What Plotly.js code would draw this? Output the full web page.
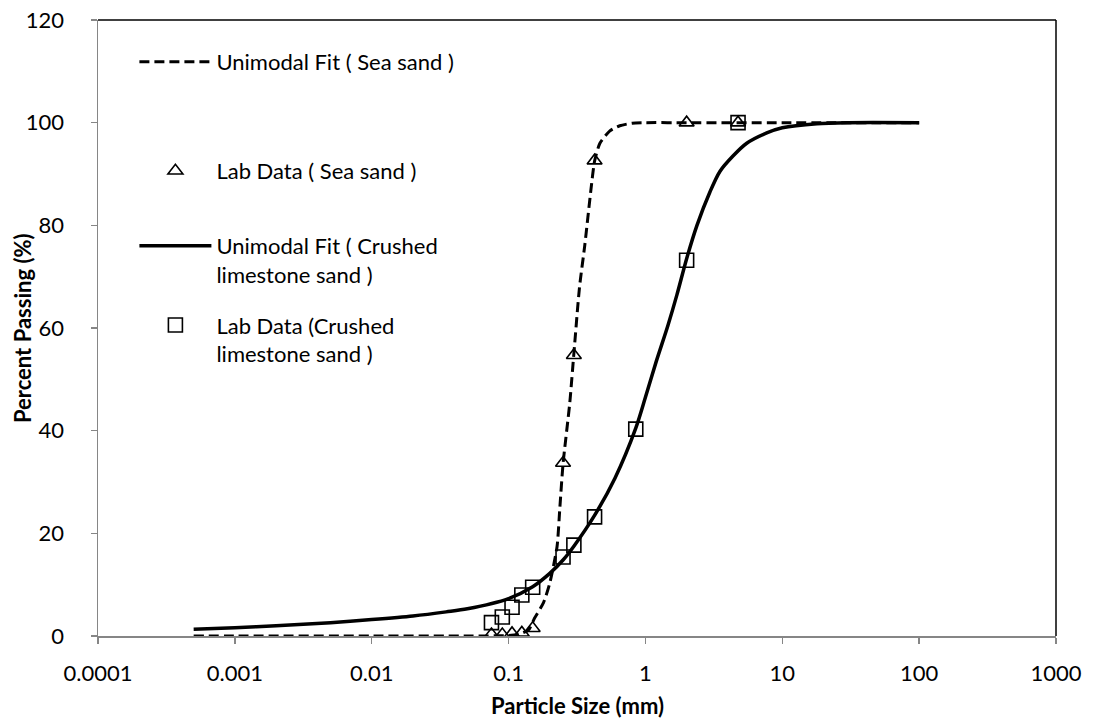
<!DOCTYPE html>
<html>
<head>
<meta charset="utf-8">
<script src="https://cdn.plot.ly/plotly-3.0.1.min.js"></script>
<style>html,body{margin:0;padding:0;background:#fff;}#chart{width:1096px;height:722px;}</style>
</head>
<body>
<div id="chart"></div>
<script>
// Unimodal fit (Sea sand)
var seaFitX = [0.0005, 0.001, 0.01, 0.05, 0.1, 0.12, 0.14, 0.155, 0.18, 0.2, 0.226, 0.237, 0.25, 0.28, 0.3, 0.33, 0.36, 0.4, 0.425, 0.465, 0.55, 0.65, 0.8, 1, 2, 10, 100];
var seaFitY = [0, 0, 0, 0, 0.1, 0.4, 1.2, 3.5, 6.5, 10.3, 17.4, 25, 33.5, 45.4, 55, 68, 76, 87, 92.5, 96, 98.4, 99.4, 99.9, 100, 100, 100, 100];
// Lab data (Sea sand)
var seaLabX = [0.075, 0.09, 0.106, 0.125, 0.15, 0.25, 0.3, 0.425, 2, 4.75];
var seaLabY = [0.3, 0.3, 0.5, 0.6, 1.5, 33.7, 54.7, 92.6, 100, 100];
// Unimodal fit (Crushed limestone sand)
var limeFitX = [0.0005, 0.001, 0.002, 0.005, 0.01, 0.02, 0.035, 0.05, 0.1, 0.15, 0.2, 0.25, 0.3, 0.425, 0.6, 0.85, 1, 1.2, 1.46, 1.7, 2, 2.38, 2.96, 3.5, 4.36, 5.5, 7.7, 10, 17.9, 30, 100];
var limeFitY = [1.3, 1.6, 2.0, 2.6, 3.2, 3.9, 4.7, 5.3, 7.3, 9.6, 12.2, 14.8, 17.5, 23.5, 30.8, 40.5, 46.5, 53.5, 60.5, 66.5, 73.5, 80, 86.5, 90.5, 93.5, 96, 98, 99, 99.8, 100, 100];
// Lab data (Crushed limestone sand)
var limeLabX = [0.075, 0.09, 0.106, 0.125, 0.15, 0.25, 0.3, 0.425, 0.85, 2, 4.75];
var limeLabY = [2.6, 3.7, 5.6, 8, 9.5, 15.4, 17.7, 23.2, 40.3, 73.2, 100];
// Tick labels
var xTickVals = [0.0001, 0.001, 0.01, 0.1, 1, 10, 100, 1000];
var xTickText = ["0.0001", "0.001", "0.01", "0.1", "1", "10", "100", "1000"];
var yTickVals = [0, 20, 40, 60, 80, 100, 120];
var xTitle = "Particle Size (mm)";
var yTitle = "Percent Passing (%)";

var FONT = "Lato, 'Open Sans', sans-serif";
var traces = [
  {x: seaFitX, y: seaFitY, mode: 'lines', name: 'Unimodal Fit ( Sea sand )',
   line: {color: '#000', width: 3, dash: '10px,5px', shape: 'spline', smoothing: 0.6}, legend: 'legend'},
  {x: seaLabX, y: seaLabY, mode: 'markers', name: 'Lab Data ( Sea sand )',
   marker: {symbol: 'triangle-up-open', size: 13, color: '#000', line: {width: 1.6, color: '#000'}}, legend: 'legend2'},
  {x: limeFitX, y: limeFitY, mode: 'lines', name: 'Unimodal Fit ( Crushed<br>limestone sand )',
   line: {color: '#000', width: 3.5, shape: 'spline', smoothing: 0.8}, legend: 'legend3'},
  {x: limeLabX, y: limeLabY, mode: 'markers', name: 'Lab Data (Crushed<br>limestone sand )',
   marker: {symbol: 'square-open', size: 14, color: '#000', line: {width: 1.6, color: '#000'}}, legend: 'legend4'}
];

function leg(y) {
  return {x: 0.038, y: y, xanchor: 'left', yanchor: 'middle', bgcolor: 'rgba(0,0,0,0)', borderwidth: 0,
          font: {family: FONT, size: 22, color: '#000'}, itemwidth: 72, valign: 'top'};
}

var layout = {
  width: 1096, height: 722,
  margin: {l: 98, r: 40, t: 20, b: 86},
  paper_bgcolor: '#fff', plot_bgcolor: '#fff',
  font: {family: FONT, color: '#000'},
  showlegend: true,
  legend: leg(0.932),
  legend2: leg(0.755),
  legend3: leg(0.6096),
  legend4: leg(0.481),
  xaxis: {type: 'log', range: [-4, 3], tickvals: xTickVals, ticktext: xTickText,
          showgrid: false, zeroline: false, showline: true, linecolor: '#868686', linewidth: 1.5,
          ticks: 'outside', ticklen: 6, tickcolor: '#868686', tickwidth: 1.5, ticklabelstandoff: 11,
          tickfont: {family: FONT, size: 22, color: '#000'}, automargin: false},
  yaxis: {range: [0, 120], tickvals: yTickVals, showgrid: false, zeroline: false,
          showline: true, linecolor: '#868686', linewidth: 1.5,
          ticks: 'outside', ticklen: 6, tickcolor: '#868686', tickwidth: 1.5, ticklabelstandoff: 22,
          tickfont: {family: FONT, size: 22, color: '#000'}, automargin: false},
  annotations: [
    {text: '<b>' + xTitle + '</b>', xref: 'paper', yref: 'paper', x: 0.5, y: -0.1136, xanchor: 'center', yanchor: 'middle',
     showarrow: false, font: {family: FONT, size: 22, color: '#000'}},
    {text: '<b>' + yTitle + '</b>', xref: 'paper', yref: 'paper', x: -0.0793, y: 0.5, xanchor: 'center', yanchor: 'middle',
     textangle: -90, showarrow: false, font: {family: FONT, size: 22, color: '#000'}}
  ],
  shapes: [
    {type: 'line', xref: 'paper', yref: 'paper', x0: 0, x1: 1, y0: 1, y1: 1, line: {color: '#000', width: 1.5}},
    {type: 'line', xref: 'paper', yref: 'paper', x0: 1, x1: 1, y0: 0, y1: 1, line: {color: '#000', width: 1.5}}
  ]
};

Plotly.newPlot('chart', traces, layout, {staticPlot: true, displayModeBar: false});
</script>
</body>
</html>
